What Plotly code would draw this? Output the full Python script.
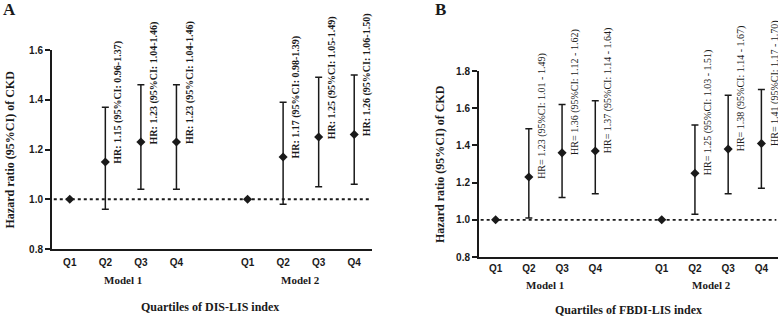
import plotly.graph_objects as go

W, H = 778, 316

quartiles = ["Q1", "Q2", "Q3", "Q4", "Q1", "Q2", "Q3", "Q4"]
xpos = [1, 2, 3, 4, 6, 7, 8, 9]
models = ["Model 1", "Model 2"]
model_centers = [2.5, 7.5]

a_hr = [1.00, 1.15, 1.23, 1.23, 1.00, 1.17, 1.25, 1.26]
a_lo = [1.00, 0.96, 1.04, 1.04, 1.00, 0.98, 1.05, 1.06]
a_hi = [1.00, 1.37, 1.46, 1.46, 1.00, 1.39, 1.49, 1.50]

b_hr = [1.00, 1.23, 1.36, 1.37, 1.00, 1.25, 1.38, 1.41]
b_lo = [1.00, 1.01, 1.12, 1.14, 1.00, 1.03, 1.14, 1.17]
b_hi = [1.00, 1.49, 1.62, 1.64, 1.00, 1.51, 1.67, 1.70]

a_ticks = [0.8, 1.0, 1.2, 1.4, 1.6]
b_ticks = [0.8, 1.0, 1.2, 1.4, 1.6, 1.8]

SERIF = "Liberation Serif, Times New Roman, serif"
SANS = "Liberation Sans, Arial, sans-serif"
INK = "#1a1a1a"


def px(x):
    return x / W


def py(y):
    return 1 - y / H


fig = go.Figure()

panels = [
    dict(hr=a_hr, lo=a_lo, hi=a_hi, xa="x", ya="y", fmt="HR: {:.2f} (95%CI: {:.2f}-{:.2f})",
         lbl_weight="bold"),
    dict(hr=b_hr, lo=b_lo, hi=b_hi, xa="x2", ya="y2", fmt="HR= {:.2f} (95%CI: {:.2f} - {:.2f})",
         lbl_weight="normal"),
]

annotations = []
shapes = []
for p in panels:
    fig.add_trace(go.Scatter(
        x=xpos, y=p["hr"], mode="markers", xaxis=p["xa"], yaxis=p["ya"],
        marker=dict(symbol="diamond", size=7, color=INK),
        error_y=dict(type="data", symmetric=False,
                     array=[h - m for h, m in zip(p["hi"], p["hr"])],
                     arrayminus=[m - l for m, l in zip(p["hr"], p["lo"])],
                     color=INK, thickness=1.5, width=3.5),
        showlegend=False, hoverinfo="skip", cliponaxis=False))
    shapes.append(dict(type="line", xref=p["xa"], yref=p["ya"], x0=0.55, x1=9.45, y0=1, y1=1,
                       line=dict(color=INK, width=1.8, dash="dot"), layer="below"))
    for x, h, l, u in zip(xpos, p["hr"], p["lo"], p["hi"]):
        if l == u:
            continue
        annotations.append(dict(
            x=x, y=h, xref=p["xa"], yref=p["ya"], text=p["fmt"].format(h, l, u),
            textangle=-90, showarrow=False, xanchor="left", yanchor="bottom", xshift=5, yshift=-4,
            font=dict(family=SERIF, size=10, color=INK, weight=p["lbl_weight"])))

axis_common = dict(showgrid=False, zeroline=False, showline=True, linewidth=2, linecolor=INK,
                   automargin=False)

fig.update_layout(
    width=W, height=H, margin=dict(l=0, r=0, t=0, b=0, autoexpand=False),
    paper_bgcolor="white", plot_bgcolor="white",
    xaxis=dict(domain=[px(52), px(372)], range=[0.5, 9.5], tickvals=xpos, ticktext=quartiles,
               ticks="", ticklabelstandoff=3,
               tickfont=dict(family=SANS, size=10, color=INK, weight="bold"), anchor="y", **axis_common),
    yaxis=dict(domain=[py(249), py(50)], range=[0.8, 1.6], tickvals=a_ticks,
               tickformat=".1f", ticks="outside", ticklen=5, tickwidth=2, tickcolor=INK,
               tickfont=dict(family=SANS, size=10, color=INK, weight="bold"), anchor="x", **axis_common),
    xaxis2=dict(domain=[px(479), px(778)], range=[0.5, 9.5], tickvals=xpos, ticktext=quartiles,
                ticks="", ticklabelstandoff=1,
                tickfont=dict(family=SANS, size=10, color=INK, weight="bold"), anchor="y2", **axis_common),
    yaxis2=dict(domain=[py(257), py(71)], range=[0.8, 1.8], tickvals=b_ticks,
                tickformat=".1f", ticks="outside", ticklen=5, tickwidth=2, tickcolor=INK,
                tickfont=dict(family=SANS, size=10, color=INK, weight="bold"), anchor="x2", **axis_common),
    shapes=shapes,
)

CEN = dict(xanchor="center", yanchor="middle", showarrow=False)

# Panel letters
annotations.append(dict(x=px(9), y=py(9), xref="paper", yref="paper", text="A", **CEN,
                        font=dict(family=SERIF, size=17, color=INK, weight="bold")))
annotations.append(dict(x=px(440), y=py(9), xref="paper", yref="paper", text="B", **CEN,
                        font=dict(family=SERIF, size=17, color=INK, weight="bold")))

# Y titles
for xc, yc in [(9, 149.5), (440, 164)]:
    annotations.append(dict(x=px(xc), y=py(yc), xref="paper", yref="paper",
                            text="Hazard ratio (95%CI) of CKD", textangle=-90, **CEN,
                            font=dict(family=SERIF, size=12, color=INK, weight="bold")))

# Model labels
for xa, yy in [("x", 280), ("x2", 285)]:
    for m, c in zip(models, model_centers):
        annotations.append(dict(x=c, y=py(yy), xref=xa, yref="paper", text=m, **CEN,
                                font=dict(family=SERIF, size=11, color=INK, weight="bold")))

# X titles
annotations.append(dict(x=px(210), y=py(307), xref="paper", yref="paper",
                        text="Quartiles of DIS-LIS index", **CEN,
                        font=dict(family=SERIF, size=12, color=INK, weight="bold")))
annotations.append(dict(x=px(628), y=py(310), xref="paper", yref="paper",
                        text="Quartiles of FBDI-LIS index", **CEN,
                        font=dict(family=SERIF, size=12, color=INK, weight="bold")))

fig.update_layout(annotations=annotations)
fig.write_html("out.html", config={"displayModeBar": False},
               post_script="document.body.style.margin='0';")
